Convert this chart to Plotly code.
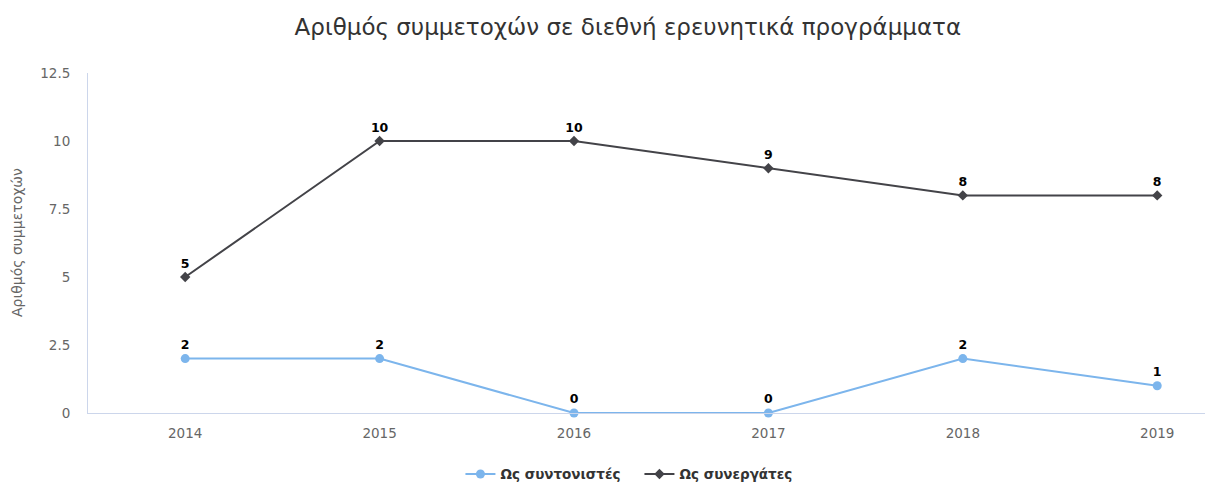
import plotly.graph_objects as go

years = ["2014", "2015", "2016", "2017", "2018", "2019"]
syntonistes = [2, 2, 0, 0, 2, 1]
synergates = [5, 10, 10, 9, 8, 8]

FONT = "DejaVu Sans, Verdana, sans-serif"

fig = go.Figure()
fig.add_trace(go.Scatter(
    x=years, y=syntonistes, name="Ως συντονιστές",
    mode="lines+markers+text", text=[str(v) for v in syntonistes],
    textposition="top center", cliponaxis=False,
    textfont=dict(size=12.5, color="#000000", family=FONT, weight="bold"),
    line=dict(color="#7cb5ec", width=2),
    marker=dict(symbol="circle", size=9, color="#7cb5ec"),
))
fig.add_trace(go.Scatter(
    x=years, y=synergates, name="Ως συνεργάτες",
    mode="lines+markers+text", text=[str(v) for v in synergates],
    textposition="top center", cliponaxis=False,
    textfont=dict(size=12.5, color="#000000", family=FONT, weight="bold"),
    line=dict(color="#434348", width=2),
    marker=dict(symbol="diamond", size=8, color="#434348"),
))

fig.update_layout(
    width=1213, height=483,
    paper_bgcolor="white", plot_bgcolor="white",
    margin=dict(l=80, r=1, t=65, b=78, autoexpand=False),
    font=dict(family=FONT, color="#666666", size=12),
    title=dict(
        text="Αριθμός συμμετοχών σε διεθνή ερευνητικά προγράμματα",
        x=0.511, xanchor="center", y=0.96, yanchor="middle",
        font=dict(size=23, color="#333333", family=FONT),
    ),
    legend=dict(
        orientation="h", xref="container", x=0.373, xanchor="left",
        y=-0.18, yanchor="middle", itemwidth=30, entrywidth=134,
        font=dict(size=13.5, color="#333333", family=FONT, weight="bold"),
    ),
    showlegend=True,
)

# τίτλος άξονα y ως annotation (σταθερή θέση)
fig.add_annotation(
    text="Αριθμός συμμετοχών", textangle=-90,
    xref="paper", yref="paper", x=-0.0627, y=0.5,
    xanchor="center", yanchor="middle", showarrow=False,
    font=dict(size=14, color="#666666", family=FONT),
)

fig.update_xaxes(
    type="category", range=[-0.5, 5.323], automargin=False,
    showline=True, linecolor="#ccd6eb", linewidth=1,
    showgrid=False, ticks="", ticklabelstandoff=8,
    tickfont=dict(size=13.5, color="#666666"),
)
fig.update_yaxes(
    range=[0, 12.5], tickvals=[0, 2.5, 5, 7.5, 10, 12.5],
    ticktext=["0", "2.5", "5", "7.5", "10", "12.5"], automargin=False,
    showline=True, linecolor="#ccd6eb", linewidth=1,
    showgrid=False, zeroline=False, ticks="", ticklabelstandoff=14,
    tickfont=dict(size=13.5, color="#666666"),
)

fig.write_html("out.html")
